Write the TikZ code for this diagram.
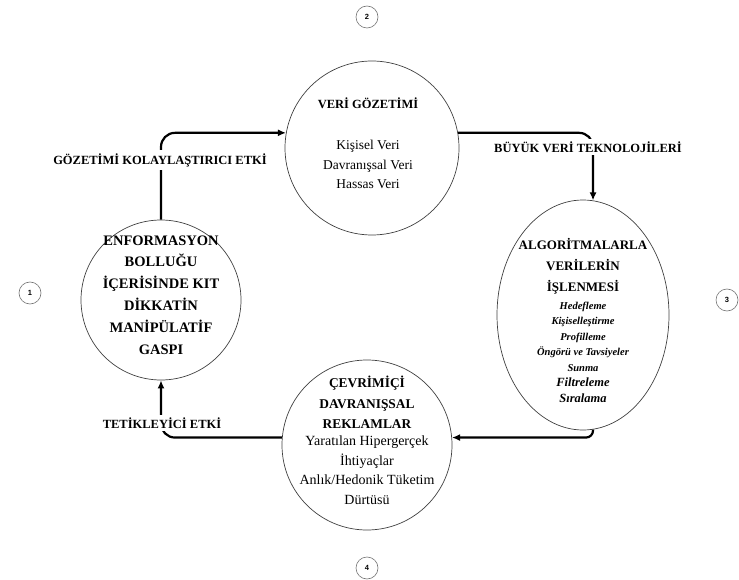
\documentclass[tikz,border=0pt]{standalone}
\usepackage{fontspec}
\setmainfont{Liberation Serif}
\setsansfont{Liberation Sans}
\usetikzlibrary{arrows.meta,shapes.geometric}

\newcommand{\fsz}[2]{\fontsize{#1}{#2}\selectfont}

\tikzset{
  bubble/.style={ellipse, draw=black!75, line width=0.7pt, inner sep=0pt},
  bubbletext/.style={align=center, anchor=base, inner sep=0pt},
  flow/.style={-{Latex[length=8pt,width=7pt]}, line width=2.2pt, rounded corners=14pt},
  flowlabel/.style={fill=white, inner xsep=2pt, inner ysep=3pt, font=\fsz{12.5}{15}\bfseries},
  stepno/.style={circle, draw=black!55, line width=0.6pt, minimum size=22pt, inner sep=0pt, font=\fsz{7.5}{9}\sffamily\bfseries},
}

\begin{document}
\begin{tikzpicture}[x=1pt,y=-1pt]
  \useasboundingbox (0,0) rectangle (739,580);

  % the four stages
  \node[bubble, minimum width=160pt, minimum height=160pt] (enf) at (161,300) {};
  \node[bubble, minimum width=174pt, minimum height=174pt] (veri) at (372,148) {};
  \node[bubble, minimum width=172pt, minimum height=230pt] (algo) at (583,315) {};
  \node[bubble, minimum width=170pt, minimum height=170pt] (cevr) at (367,445) {};

  % texts inside the stages (placed by the baseline of the last line)
  \node[bubbletext, font=\fsz{14.5}{21.8}\bfseries] (enftext) at (161,354)
    {ENFORMASYON\\BOLLUĞU\\İÇERİSİNDE KIT\\DİKKATİN\\MANİPÜLATİF\\GASPI};
  \node[bubbletext, font=\fsz{13.5}{19.5}] (veritext) at (368,189)
    {{\fsz{12.5}{19.5}\bfseries VERİ GÖZETİMİ}\\[22pt]Kişisel Veri\\Davranışsal Veri\\Hassas Veri};
  \node[bubbletext, font=\fsz{10.5}{15.5}\bfseries\itshape] (algotext) at (583,402)
    {{\upshape\fsz{13}{15.5}ALGORİTMALARLA}\\[5.5pt]{\upshape\fsz{13}{15.5}VERİLERİN}\\[5.5pt]%
     {\upshape\fsz{13}{15.5}İŞLENMESİ}\\[2pt]Hedefleme\\Kişiselleştirme\\Profilleme\\%
     Öngörü ve Tavsiyeler\\Sunma\\{\fsz{12.5}{15.5}Filtreleme}\\{\fsz{12.5}{15.5}Sıralama}};
  \node[bubbletext, font=\fsz{14}{19.5}] (cevrtext) at (367,504)
    {{\fsz{13.4}{19.5}\bfseries ÇEVRİMİÇİ}\\[1pt]{\fsz{13.4}{19.5}\bfseries DAVRANIŞSAL}\\[1pt]%
     {\fsz{13.4}{19.5}\bfseries REKLAMLAR}\\[-2.5pt]Yaratılan Hipergerçek\\İhtiyaçlar\\%
     Anlık/Hedonik Tüketim\\Dürtüsü};

  % step numbers
  \node[stepno] (n1) at (30,293) {1};
  \node[stepno] (n2) at (367,17) {2};
  \node[stepno] (n3) at (727,300) {3};
  \node[stepno] (n4) at (367,568) {4};

  % cycle arrows
  \draw[flow] (enf.north) |- (veri.170);
  \draw[flow] (veri.10) -| (algo.85);
  \draw[flow, rounded corners=7pt] (algo.-85) |- (cevr.5);
  \draw[flow] (cevr.175) -| (enf.south);

  % arrow labels
  \node[flowlabel] (gozlabel) at (160,160) {GÖZETİMİ KOLAYLAŞTIRICI ETKİ};
  \node[flowlabel] (buyuklabel) at (588,147) {BÜYÜK VERİ TEKNOLOJİLERİ};
  \node[flowlabel] (tetlabel) at (162,423) {TETİKLEYİCİ ETKİ};
\end{tikzpicture}
\end{document}
